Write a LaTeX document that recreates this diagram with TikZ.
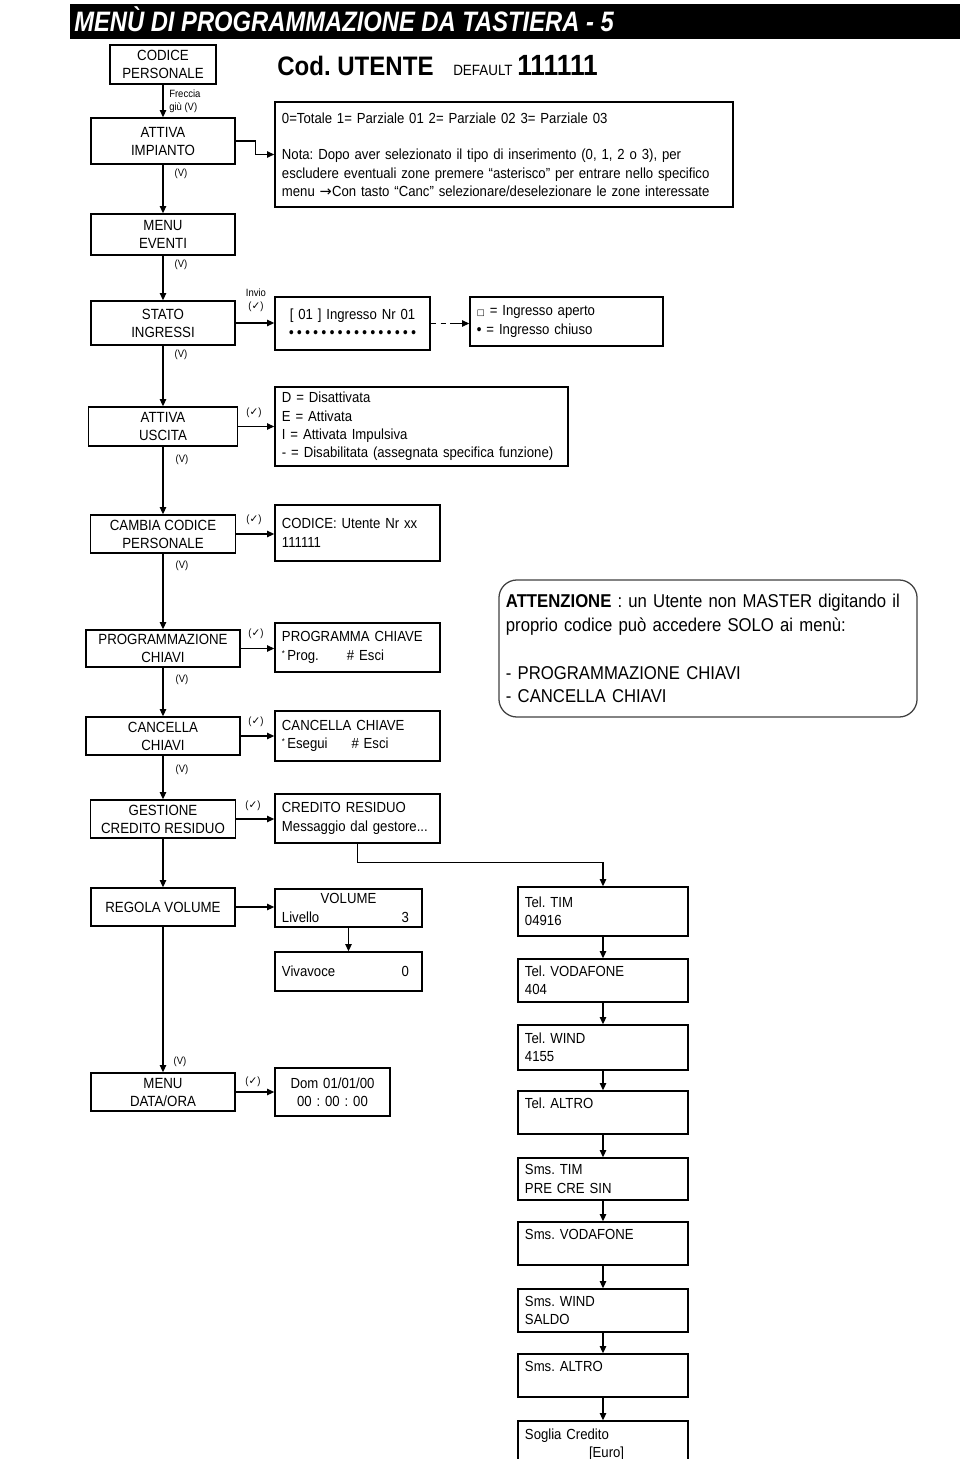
\documentclass[tikz,border=0pt]{standalone}
\usepackage{fontspec}
\setmainfont{Liberation Sans}[FakeStretch=0.9]
\newfontfamily\titlefont{Liberation Sans}[FakeStretch=0.845]
\newfontfamily\dejavu{DejaVu Sans}
\usetikzlibrary{arrows.meta}
\frenchspacing
\newcommand\ok{({\dejavu ✓})}
\newcommand\dotrow{\foreach \k in {1,...,16}{\makebox[5.8pt]{\bfseries\textbullet}}}

\begin{document}
\begin{tikzpicture}[x=0.025cm,y=-0.025cm,
    menu/.style={draw,line width=1.1pt,align=center,inner sep=0pt,font=\fontsize{10.5}{12.8}\selectfont},
    info/.style={draw,line width=1.1pt,align=left,inner xsep=0.175cm,inner ysep=0pt,text width=#1,font=\fontsize{10.4}{13}\selectfont},
    lbl/.style={inner sep=0pt,align=left,font=\fontsize{7.5}{9}\selectfont},
    flow/.style={line width=0.9pt,-{Triangle[length=5pt,width=4.5pt]}}]
    \useasboundingbox (0,0) rectangle (960,1463);
    \clip (0,0) rectangle (960,1458);
    % Title bar
    \fill (70,4) rectangle (960,39);
    \node[anchor=base west,text=white,inner sep=0pt,font=\titlefont\bfseries\itshape\fontsize{20}{24}\selectfont] (title) at (74,32) {MENÙ DI PROGRAMMAZIONE DA TASTIERA - 5};
    \node[anchor=base west,inner sep=0pt,font=\bfseries\fontsize{19}{22}\selectfont] (codut) at (277,76) {Cod. UTENTE};
    \node[anchor=base west,inner sep=0pt,font=\fontsize{10.6}{12}\selectfont] (dflt) at (453,76) {DEFAULT};
    \node[anchor=base west,inner sep=0pt,font=\bfseries\fontsize{20.8}{24}\selectfont] (dfltval) at (517,76) {111111};
    % Main menu column
    \node[menu,minimum width=2.65cm,minimum height=0.975cm] (cod) at (163,64.5) {CODICE\\PERSONALE};
    \node[menu,minimum width=3.6cm,minimum height=1.15cm] (imp) at (163,141) {ATTIVA\\IMPIANTO};
    \node[menu,minimum width=3.6cm,minimum height=1.025cm] (eve) at (163,234.5) {MENU\\EVENTI};
    \node[menu,minimum width=3.6cm,minimum height=1.1cm] (ing) at (163,323) {STATO\\INGRESSI};
    \node[menu,minimum width=3.725cm,minimum height=0.975cm] (usc) at (163,426.5) {ATTIVA\\USCITA};
    \node[menu,minimum width=3.625cm,minimum height=0.95cm] (cam) at (163,534) {CAMBIA CODICE\\PERSONALE};
    \node[menu,minimum width=3.85cm,minimum height=0.925cm] (prg) at (163,648.5) {PROGRAMMAZIONE\\CHIAVI};
    \node[menu,minimum width=3.85cm,minimum height=0.95cm] (cnc) at (163,736) {CANCELLA\\CHIAVI};
    \node[menu,minimum width=3.625cm,minimum height=0.95cm] (ges) at (163,819) {GESTIONE\\CREDITO RESIDUO};
    \node[menu,minimum width=3.6cm,minimum height=0.95cm] (vol) at (163,907) {REGOLA VOLUME};
    \node[menu,minimum width=3.6cm,minimum height=0.95cm] (dat) at (163,1092) {MENU\\DATA/ORA};
    % Sub menus
    \node[info=11.1cm,minimum height=2.625cm] (nota) at (504,154.5) {0=Totale 1= Parziale 01 2= Parziale 02 3= Parziale 03\\\mbox{}\\Nota: Dopo aver selezionato il tipo di inserimento (0, 1, 2 o 3), per\\escludere eventuali zone premere “asterisco” per entrare nello specifico\\menu {\dejavu →}Con tasto “Canc” selezionare/deselezionare le zone interessate};
    \node[info=3.525cm,align=center,minimum height=1.325cm] (ingr) at (352.5,323.5) {[ 01 ] Ingresso Nr 01\\\dotrow};
    \node[info=4.475cm,minimum height=1.225cm] (leg) at (566.5,321.5) {{\dejavu\fontsize{6}{6}\selectfont □} = Ingresso aperto\\{\bfseries\textbullet} = Ingresso chiuso};
    \node[info=6.975cm,minimum height=1.975cm] (usd) at (421.5,426.5) {D = Disattivata\\E = Attivata\\I = Attivata Impulsiva\\- = Disabilitata (assegnata specifica funzione)};
    \node[info=3.775cm,minimum height=1.4cm] (codu) at (357.5,533) {CODICE: Utente Nr xx\\111111};
    \node[info=3.775cm,minimum height=1.225cm] (prgc) at (357.5,647.5) {PROGRAMMA CHIAVE\\\raisebox{.5ex}{\fontsize{6}{6}\selectfont *}\,Prog.\hspace{20pt}\# Esci};
    \node[info=3.775cm,minimum height=1.25cm] (cncc) at (357.5,736) {CANCELLA CHIAVE\\\raisebox{.5ex}{\fontsize{6}{6}\selectfont *}\,Esegui\hspace{17pt}\# Esci};
    \node[info=3.775cm,minimum height=1.225cm] (cred) at (357.5,818.5) {CREDITO RESIDUO\\Messaggio dal gestore...};
    \node[info=3.325cm,minimum height=0.95cm] (volu) at (348.5,908) {\makebox[3.325cm]{VOLUME}\\\makebox[3.325cm]{Livello\hfill 3\hspace{0.15cm}}};
    \node[info=3.325cm,minimum height=0.975cm] (viva) at (348.5,971.5) {\makebox[3.325cm]{Vivavoce\hfill 0\hspace{0.15cm}}};
    \node[info=2.525cm,align=center,minimum height=1.2cm] (dom) at (332.5,1092) {Dom 01/01/00\\00 : 00 : 00};
    % Note box
    \node[info=10.1cm,draw=black!75,line width=0.9pt,rounded corners=0.45cm,minimum height=3.425cm,font=\fontsize{13.2}{17}\selectfont] (att) at (708,648.5) {\textbf{ATTENZIONE} : un Utente non MASTER digitando il\\proprio codice può accedere SOLO ai menù:\\\mbox{}\\- PROGRAMMAZIONE CHIAVI\\- CANCELLA CHIAVI};
    % Credit column
    \node[info=3.9cm,minimum height=1.225cm] (t1) at (603,911.5) {Tel. TIM\\04916};
    \node[info=3.9cm,minimum height=1.075cm] (t2) at (603,980.5) {Tel. VODAFONE\\404};
    \node[info=3.9cm,minimum height=1.125cm] (t3) at (603,1047.5) {Tel. WIND\\4155};
    \node[info=3.9cm,minimum height=1.075cm] (t4) at (603,1112.5) {Tel. ALTRO\\\mbox{}};
    \node[info=3.9cm,minimum height=1.05cm] (s1) at (603,1179) {Sms. TIM\\PRE CRE SIN};
    \node[info=3.9cm,minimum height=1.075cm] (s2) at (603,1243.5) {Sms. VODAFONE\\\mbox{}};
    \node[info=3.9cm,minimum height=1.075cm] (s3) at (603,1310.5) {Sms. WIND\\SALDO};
    \node[info=3.9cm,minimum height=1.075cm] (s4) at (603,1375.5) {Sms. ALTRO\\\mbox{}};
    \node[info=3.9cm,minimum height=1.2cm] (sg) at (603,1445) {Soglia Credito\\\hspace*{1.6cm}[Euro]};
    % Down arrows
    \draw[flow] (cod) -- (imp);
    \node[lbl,anchor=west] (frec) at (169,101) {Freccia\\giù (V)};
    \draw[flow] (imp) -- (eve);
    \node[lbl] (v1) at (181,174) {(V)};
    \draw[flow] (eve) -- (ing);
    \node[lbl] (v2) at (181,265) {(V)};
    \draw[flow] (ing) -- (usc);
    \node[lbl] (v3) at (181,355) {(V)};
    \draw[flow] (usc) -- (cam);
    \node[lbl] (v4) at (182,460) {(V)};
    \draw[flow] (cam) -- (prg);
    \node[lbl] (v5) at (182,566) {(V)};
    \draw[flow] (prg) -- (cnc);
    \node[lbl] (v6) at (182,680) {(V)};
    \draw[flow] (cnc) -- (ges);
    \node[lbl] (v7) at (182,770) {(V)};
    \draw[flow] (ges) -- (vol);
    \draw[flow] (vol) -- (dat);
    \node[lbl] (v8) at (180,1062) {(V)};
    % Enter arrows
    \draw[flow] (imp.east) -- ++(20,0) |- (nota.west);
    \draw[flow] (ing.east) -- (ing.east -| ingr.west);
    \node[lbl,align=center] (inv) at (256,300) {Invio\\\ok};
    \draw[flow,dash pattern=on 4pt off 3pt on 4pt off 3pt on 30pt] (ingr.east) -- (ingr.east -| leg.west);
    \draw[flow] (usc.east) -- (usc.east -| usd.west);
    \node[lbl] (k1) at (254,413) {\ok};
    \draw[flow] (cam.east) -- (cam.east -| codu.west);
    \node[lbl] (k2) at (254,520) {\ok};
    \draw[flow] (prg.east) -- (prg.east -| prgc.west);
    \node[lbl] (k3) at (256,634) {\ok};
    \draw[flow] (cnc.east) -- (cnc.east -| cncc.west);
    \node[lbl] (k4) at (256,722) {\ok};
    \draw[flow] (ges.east) -- (ges.east -| cred.west);
    \node[lbl] (k5) at (253,806) {\ok};
    \draw[flow] (vol.east) -- (vol.east -| volu.west);
    \draw[flow] (volu) -- (viva);
    \draw[flow] (dat.east) -- (dat.east -| dom.west);
    \node[lbl] (k6) at (253,1082) {\ok};
    % Credit chain
    \draw[flow] (cred.south) -- ++(0,19) -| (t1.north);
    \draw[flow] (t1) -- (t2);
    \draw[flow] (t2) -- (t3);
    \draw[flow] (t3) -- (t4);
    \draw[flow] (t4) -- (s1);
    \draw[flow] (s1) -- (s2);
    \draw[flow] (s2) -- (s3);
    \draw[flow] (s3) -- (s4);
    \draw[flow] (s4) -- (sg);
\end{tikzpicture}
\end{document}
